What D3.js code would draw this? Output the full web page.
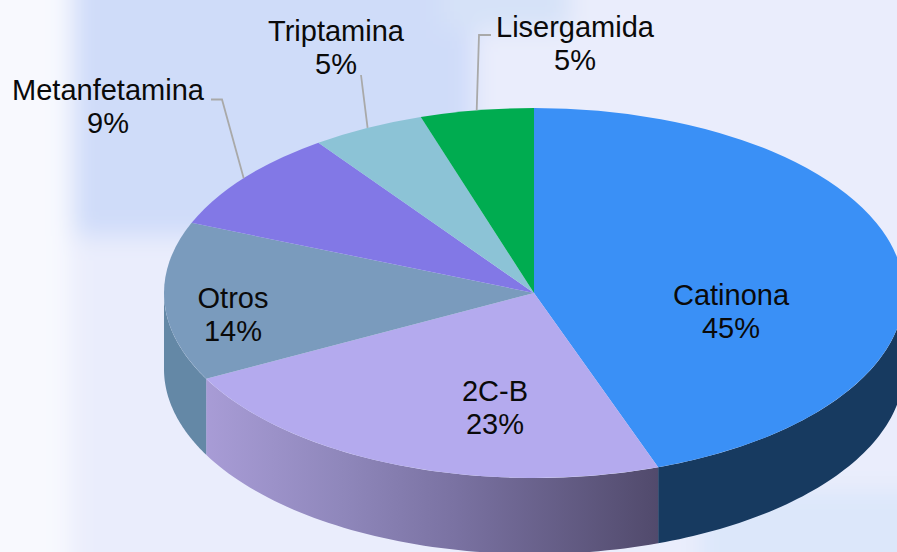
<!DOCTYPE html>
<html>
<head>
<meta charset="utf-8">
<script src="https://cdn.jsdelivr.net/npm/d3@7"></script>
<style>
  html, body { margin: 0; padding: 0; background: #eaedfc; overflow: hidden; }
  svg { display: block; }
  text { font-family: "Liberation Sans", Arial, sans-serif; font-size: 29px; fill: #0a0a0a; text-anchor: middle; }
</style>
</head>
<body>
<div id="chart"></div>
<script>
// data
const categories = ["Catinona", "2C-B", "Otros", "Metanfetamina", "Triptamina", "Lisergamida"];
const percents = [45, 23, 14, 9, 5, 5];

// colours per category
const topColors = ["#3a90f6", "#b4aaee", "#7a9bbd", "#8278e6", "#8cc3d6", "#00ac50"];
const wallColors = ["#173a60", "url(#wall2cb)", "#6488a6", "#6860b8", "#709cab", "#008a40"];

// where the labels sit (centre x, first baseline), by category
const labelX = [731, 495, 233, 108, 336, 575];
const labelY = [305, 401, 308, 100, 41, 37];
// elbow of the leader line: from label side to the bend, null = no leader
const leaderStart = [null, null, null, [211, 99.5, 222, 99.5], [361, 75], [491, 35, 479, 35]];

const w = 897, h = 552;
const cx = 534, cy = 293, rx = 370, ry = 185, depth = 76;
const lineGap = 33;

const svg = d3.select("#chart").append("svg").attr("width", w).attr("height", h);
const defs = svg.append("defs");

defs.append("filter").attr("id", "soft")
  .attr("filterUnits", "userSpaceOnUse")
  .attr("x", -60).attr("y", -60).attr("width", w + 120).attr("height", h + 120)
  .append("feGaussianBlur").attr("stdDeviation", 12);

// shading on the 2C-B wall
const grad = defs.append("linearGradient").attr("id", "wall2cb")
  .attr("gradientUnits", "userSpaceOnUse")
  .attr("x1", 206).attr("x2", 658).attr("y1", 0).attr("y2", 0);
grad.append("stop").attr("offset", 0).attr("stop-color", "#a89cd6");
grad.append("stop").attr("offset", 0.3).attr("stop-color", "#8f87bb");
grad.append("stop").attr("offset", 0.55).attr("stop-color", "#7a72a2");
grad.append("stop").attr("offset", 1).attr("stop-color", "#514a6c");

// washed out background picture
const bg = svg.append("g").attr("filter", "url(#soft)");
bg.append("rect").attr("x", -60).attr("y", -60).attr("width", w + 120).attr("height", h + 120).attr("fill", "#eaedfc");
bg.append("rect").attr("x", -60).attr("y", -60).attr("width", 130).attr("height", h + 120).attr("fill", "#f8f9fe");
bg.append("rect").attr("x", 74).attr("y", -60).attr("width", 400).attr("height", 296).attr("fill", "#cfdcf9");
bg.append("rect").attr("x", 440).attr("y", -60).attr("width", 130).attr("height", 90).attr("fill", "#d6e2f8");
bg.append("rect").attr("x", 700).attr("y", 490).attr("width", 260).attr("height", 120).attr("fill", "#dce7fa");

const pie = d3.pie().sort(null).value(d => d)(percents);
const arc = d3.arc().innerRadius(0).outerRadius(rx);

// point on the top rim for an angle measured clockwise from 12 o'clock
const rim = a => [cx + rx * Math.sin(a), cy - ry * Math.cos(a)];

// side walls, only the front half of the ellipse shows
const wallLine = d3.line();
pie.forEach((d, i) => {
  const a0 = Math.max(d.startAngle, Math.PI / 2);
  const a1 = Math.min(d.endAngle, Math.PI * 1.5);
  if (a1 <= a0) return;
  const upper = d3.range(0, 61).map(k => rim(a0 + (a1 - a0) * k / 60));
  const lower = upper.slice().reverse().map(p => [p[0], p[1] + depth]);
  svg.append("path")
    .attr("d", wallLine(upper.concat(lower)) + "Z")
    .attr("fill", wallColors[i]);
});

// top of the pie
svg.append("g")
  .attr("transform", `translate(${cx},${cy}) scale(1,${ry / rx})`)
  .selectAll("path")
  .data(pie)
  .enter()
  .append("path")
  .attr("d", arc)
  .attr("fill", (d, i) => topColors[i]);

// leader lines end on the rim at the middle of the slice
pie.forEach((d, i) => {
  if (!leaderStart[i]) return;
  const s = leaderStart[i];
  const pts = d3.range(0, s.length, 2).map(k => [s[k], s[k + 1]]);
  pts.push(rim((d.startAngle + d.endAngle) / 2));
  svg.append("path")
    .attr("d", wallLine(pts))
    .attr("fill", "none")
    .attr("stroke", "#a9a9a9")
    .attr("stroke-width", 1.8);
});

// labels
categories.forEach((name, i) => {
  const t = svg.append("text").attr("x", labelX[i]).attr("y", labelY[i]);
  t.append("tspan").attr("x", labelX[i]).text(name);
  t.append("tspan").attr("x", labelX[i]).attr("dy", lineGap).text(percents[i] + "%");
});
</script>
</body>
</html>
